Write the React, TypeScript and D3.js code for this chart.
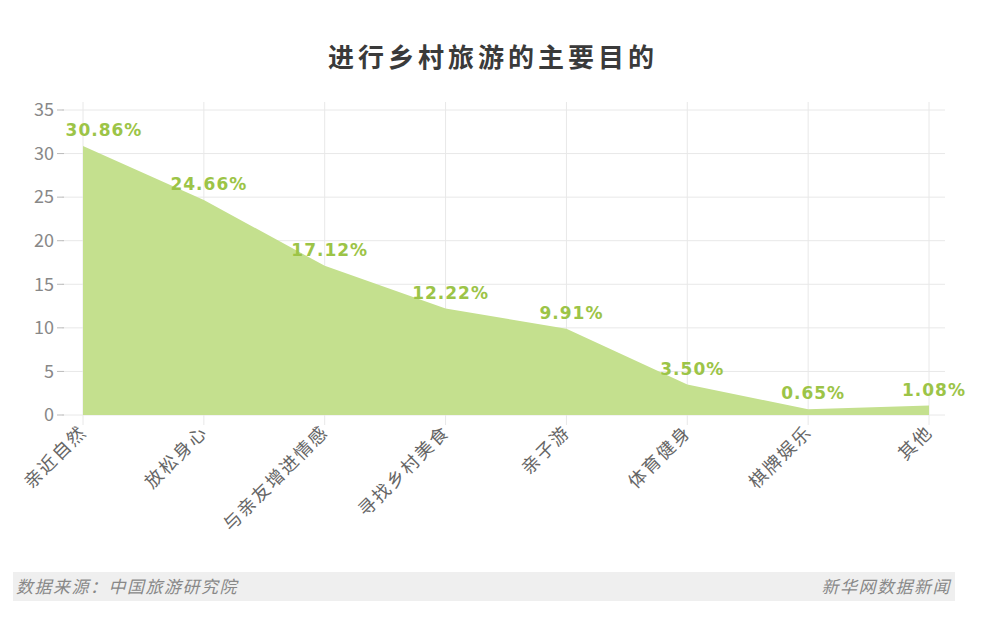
import React from "react";
import * as d3 from "d3";

const categories = ["亲近自然", "放松身心", "与亲友增进情感", "寻找乡村美食", "亲子游", "体育健身", "棋牌娱乐", "其他"];
const values = [30.86, 24.66, 17.12, 12.22, 9.91, 3.5, 0.65, 1.08];
const yTicks = [0, 5, 10, 15, 20, 25, 30, 35];
const title = "进行乡村旅游的主要目的";
const sourceText = "数据来源：中国旅游研究院";
const brandText = "新华网数据新闻";

const W = 985;
const H = 617;
const font = "'Noto Sans CJK SC', 'Noto Sans', sans-serif";

export default function App() {
  const x = d3.scalePoint<string>().domain(categories).range([83, 929]);
  const y = d3.scaleLinear().domain([0, 35]).range([415, 110]);
  const gridLeft = 62;
  const gridRight = 945;
  const labelHalf = 42;

  const data = categories.map((c, i) => ({ c, v: values[i] }));
  const area = d3
    .area<{ c: string; v: number }>()
    .x((d) => x(d.c) as number)
    .y0(y(0))
    .y1((d) => y(d.v))
    .curve(d3.curveLinear);

  return (
    <svg
      width={W}
      height={H}
      style={{ position: "absolute", left: 0, top: 0, background: "#fff" }}
      fontFamily={font}
    >
      <rect x={0} y={0} width={W} height={H} fill="#fff" />
      <text
        x={493}
        y={67}
        textAnchor="middle"
        fontSize={26}
        fontWeight="bold"
        fill="#3a3a3a"
        letterSpacing={4}
      >
        {title}
      </text>

      {yTicks.map((t) => (
        <g key={"y" + t}>
          <line x1={gridLeft} x2={gridRight} y1={y(t)} y2={y(t)} stroke="#e8e8e8" strokeWidth={1} />
          <line x1={57} x2={64} y1={y(t)} y2={y(t)} stroke="#bbb" strokeWidth={1} />
          <text x={54} y={y(t)} dy="0.35em" textAnchor="end" fontSize={18} fill="#888">
            {t}
          </text>
        </g>
      ))}
      {categories.map((c) => (
        <line
          key={"v" + c}
          x1={x(c)}
          x2={x(c)}
          y1={y(35) - 8}
          y2={y(0) + 10}
          stroke="#e8e8e8"
          strokeWidth={1}
        />
      ))}

      <path d={area(data) || ""} fill="#c4e08e" />

      {data.map((d) => {
        const cx = Math.max((x(d.c) as number) + 5, gridLeft + labelHalf);
        return (
          <text
            key={"l" + d.c}
            x={cx}
            y={y(d.v) - 10}
            textAnchor="middle"
            fontSize={17}
            fontWeight="bold"
            fill="#9cc447"
            letterSpacing={1}
            fontFamily="'DejaVu Sans', sans-serif"
          >
            {d.v.toFixed(2)}%
          </text>
        );
      })}

      {categories.map((c) => (
        <text
          key={"x" + c}
          transform={`translate(${(x(c) as number) + 5},${y(0) + 18}) rotate(-45)`}
          textAnchor="end"
          fontSize={18}
          letterSpacing={2}
          fill="#666"
        >
          {c}
        </text>
      ))}

      <rect x={13} y={572} width={942} height={29} fill="#efefef" />
      <text x={16} y={593} fontSize={17} fontStyle="italic" fill="#888" letterSpacing={1.5}>
        {sourceText}
      </text>
      <text x={951} y={593} fontSize={17} fontStyle="italic" fill="#888" textAnchor="end" letterSpacing={1.5}>
        {brandText}
      </text>
    </svg>
  );
}
